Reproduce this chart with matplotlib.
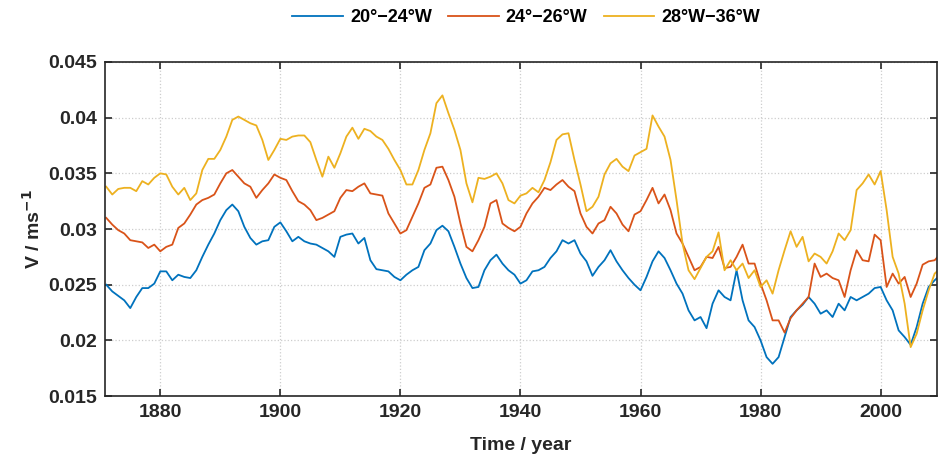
import numpy as np
import matplotlib
matplotlib.use('Agg')
import matplotlib.pyplot as plt

# годы (по одному значению на год)
years = np.arange(1871, 2011)

# 20°-24°W
v_20_24 = [
    0.0250, 0.0244, 0.0240, 0.0236, 0.0229, 0.0239, 0.0247, 0.0247, 0.0251, 0.0262,  # 1871-1880
    0.0262, 0.0254, 0.0259, 0.0257, 0.0256, 0.0263, 0.0275, 0.0286, 0.0296, 0.0308,  # 1881-1890
    0.0317, 0.0322, 0.0316, 0.0302, 0.0292, 0.0286, 0.0289, 0.0290, 0.0302, 0.0306,  # 1891-1900
    0.0298, 0.0289, 0.0293, 0.0289, 0.0287, 0.0286, 0.0283, 0.0280, 0.0275, 0.0293,  # 1901-1910
    0.0295, 0.0296, 0.0287, 0.0292, 0.0272, 0.0264, 0.0263, 0.0262, 0.0257, 0.0254,  # 1911-1920
    0.0259, 0.0263, 0.0266, 0.0281, 0.0287, 0.0299, 0.0303, 0.0298, 0.0284, 0.0269,  # 1921-1930
    0.0256, 0.0247, 0.0248, 0.0263, 0.0272, 0.0277, 0.0269, 0.0263, 0.0259, 0.0251,  # 1931-1940
    0.0254, 0.0262, 0.0263, 0.0266, 0.0274, 0.0280, 0.0290, 0.0287, 0.0290, 0.0278,  # 1941-1950
    0.0271, 0.0258, 0.0266, 0.0272, 0.0281, 0.0271, 0.0263, 0.0256, 0.0250, 0.0245,  # 1951-1960
    0.0257, 0.0271, 0.0280, 0.0274, 0.0263, 0.0251, 0.0242, 0.0227, 0.0218, 0.0221,  # 1961-1970
    0.0211, 0.0233, 0.0245, 0.0239, 0.0236, 0.0263, 0.0236, 0.0218, 0.0212, 0.0200,  # 1971-1980
    0.0185, 0.0179, 0.0185, 0.0203, 0.0221, 0.0227, 0.0232, 0.0239, 0.0233, 0.0224,  # 1981-1990
    0.0227, 0.0221, 0.0233, 0.0227, 0.0239, 0.0236, 0.0239, 0.0242, 0.0247, 0.0248,  # 1991-2000
    0.0236, 0.0227, 0.0209, 0.0203, 0.0196, 0.0212, 0.0233, 0.0248, 0.0254, 0.0259,  # 2001-2010
]

# 24°-26°W
v_24_26 = [
    0.0310, 0.0304, 0.0299, 0.0296, 0.0290, 0.0289, 0.0288, 0.0283, 0.0286, 0.0280,
    0.0284, 0.0286, 0.0301, 0.0305, 0.0313, 0.0322, 0.0326, 0.0328, 0.0331, 0.0341,
    0.0350, 0.0353, 0.0347, 0.0341, 0.0338, 0.0328, 0.0335, 0.0341, 0.0349, 0.0346,
    0.0344, 0.0334, 0.0325, 0.0322, 0.0317, 0.0308, 0.0310, 0.0313, 0.0316, 0.0328,
    0.0335, 0.0334, 0.0338, 0.0341, 0.0332, 0.0331, 0.0330, 0.0314, 0.0305, 0.0296,
    0.0299, 0.0311, 0.0323, 0.0337, 0.0340, 0.0355, 0.0356, 0.0344, 0.0329, 0.0305,
    0.0284, 0.0280, 0.0290, 0.0302, 0.0323, 0.0326, 0.0305, 0.0301, 0.0298, 0.0302,
    0.0314, 0.0323, 0.0329, 0.0337, 0.0335, 0.0340, 0.0344, 0.0338, 0.0334, 0.0314,
    0.0302, 0.0296, 0.0305, 0.0308, 0.0320, 0.0314, 0.0304, 0.0298, 0.0313, 0.0316,
    0.0326, 0.0337, 0.0323, 0.0331, 0.0317, 0.0296, 0.0287, 0.0275, 0.0263, 0.0266,
    0.0275, 0.0274, 0.0284, 0.0265, 0.0266, 0.0275, 0.0286, 0.0269, 0.0269, 0.0251,
    0.0236, 0.0218, 0.0218, 0.0207, 0.0220, 0.0227, 0.0233, 0.0239, 0.0269, 0.0257,
    0.0260, 0.0256, 0.0254, 0.0239, 0.0263, 0.0281, 0.0272, 0.0271, 0.0295, 0.0290,
    0.0248, 0.0260, 0.0251, 0.0257, 0.0239, 0.0251, 0.0268, 0.0271, 0.0272, 0.0278,
]

# 28°W-36°W
v_28_36 = [
    0.0338, 0.0331, 0.0336, 0.0337, 0.0337, 0.0334, 0.0343, 0.0340, 0.0346, 0.0350,
    0.0349, 0.0338, 0.0331, 0.0337, 0.0326, 0.0332, 0.0353, 0.0363, 0.0363, 0.0371,
    0.0383, 0.0398, 0.0401, 0.0398, 0.0395, 0.0393, 0.0380, 0.0362, 0.0371, 0.0381,
    0.0380, 0.0383, 0.0384, 0.0384, 0.0378, 0.0362, 0.0347, 0.0365, 0.0355, 0.0368,
    0.0383, 0.0391, 0.0381, 0.0390, 0.0388, 0.0383, 0.0380, 0.0372, 0.0362, 0.0353,
    0.0340, 0.0340, 0.0353, 0.0371, 0.0386, 0.0413, 0.0420, 0.0404, 0.0389, 0.0371,
    0.0341, 0.0324, 0.0346, 0.0345, 0.0347, 0.0350, 0.0341, 0.0326, 0.0323, 0.0330,
    0.0332, 0.0337, 0.0333, 0.0344, 0.0360, 0.0380, 0.0385, 0.0386, 0.0362, 0.0340,
    0.0316, 0.0320, 0.0329, 0.0349, 0.0359, 0.0363, 0.0356, 0.0352, 0.0366, 0.0369,
    0.0372, 0.0402, 0.0392, 0.0383, 0.0362, 0.0326, 0.0287, 0.0263, 0.0255, 0.0265,
    0.0275, 0.0280, 0.0297, 0.0263, 0.0272, 0.0263, 0.0269, 0.0256, 0.0263, 0.0248,
    0.0254, 0.0242, 0.0263, 0.0281, 0.0298, 0.0284, 0.0293, 0.0271, 0.0278, 0.0275,
    0.0269, 0.0280, 0.0296, 0.0290, 0.0299, 0.0335, 0.0341, 0.0349, 0.0340, 0.0352,
    0.0317, 0.0275, 0.0260, 0.0233, 0.0194, 0.0206, 0.0227, 0.0245, 0.0260, 0.0265,
]

labels = ['20°−24°W', '24°−26°W', '28°W−36°W']
colors = ['#0072BD', '#D95319', '#EDB120']
series = [v_20_24, v_24_26, v_28_36]

x_ticks = [1880, 1900, 1920, 1940, 1960, 1980, 2000]
y_ticks = [0.015, 0.02, 0.025, 0.03, 0.035, 0.04, 0.045]
y_tick_labels = ['0.015', '0.02', '0.025', '0.03', '0.035', '0.04', '0.045']

plt.rcParams['font.family'] = ['Liberation Sans', 'DejaVu Sans']
plt.rcParams['font.weight'] = 'bold'

fig = plt.figure(figsize=(9.38, 4.59), dpi=100)
ax = fig.add_axes([0.112, 0.137, 0.887, 0.728])

for vals, lab, col in zip(series, labels, colors):
    ax.plot(years, vals, color=col, linewidth=1.3, label=lab)

ax.set_xlim(1870.8, 2009.4)
ax.set_ylim(0.015, 0.045)
ax.set_xticks(x_ticks)
ax.set_yticks(y_ticks)
ax.set_yticklabels(y_tick_labels)

ax.grid(True, linestyle=':', linewidth=0.9, color='#cdcdcd')
ax.tick_params(direction='in', length=5, width=1.2, top=True, right=True,
               labelsize=14, colors='#262626', pad=6)
for lbl in ax.get_xticklabels() + ax.get_yticklabels():
    lbl.set_fontweight('bold')
    lbl.set_color('#262626')
for sp in ax.spines.values():
    sp.set_linewidth(1.2)
    sp.set_color('#262626')

ax.set_xlabel('Time / year', fontsize=14, fontweight='bold', color='#262626', labelpad=11)
ax.set_ylabel('V / ms$^{\\mathbf{-1}}$', fontsize=14, fontweight='bold', color='#262626', labelpad=3)

fig.legend(loc='center', bbox_to_anchor=(0.561, 0.961), ncol=3, frameon=False,
           fontsize=13, handlelength=2.8, handletextpad=0.4, columnspacing=0.9)

fig.savefig('out.png', dpi=100)
